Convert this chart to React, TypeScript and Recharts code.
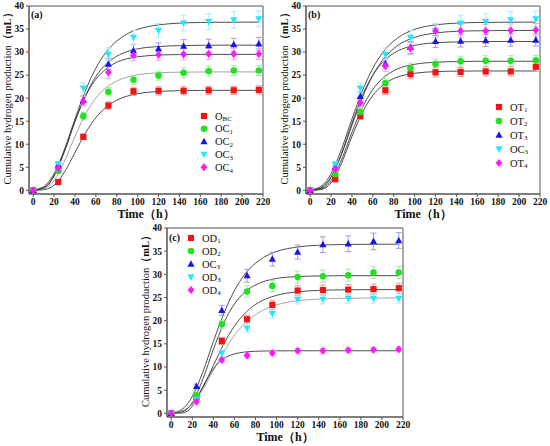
import React from "react";
import {
    ComposedChart,
    Line,
    Scatter,
    XAxis,
    YAxis,
    ErrorBar,
    ReferenceArea,
} from "recharts";

// sampling times of the measured points and of the fitted curves (h)
const sampleTimes = [0, 24, 48, 72, 96, 120, 144, 168, 192, 216];
const fitTimes = [0, 10, 20, 30, 40, 50, 60, 70, 80, 90, 100, 120, 140, 160, 180, 200, 216];

const xTicks = [0, 20, 40, 60, 80, 100, 120, 140, 160, 180, 200, 220];
const yTicks = [0, 5, 10, 15, 20, 25, 30, 35, 40];

// panel (a)
const obcVals = [0, 1.8, 11.6, 18.4, 21.5, 21.6, 21.6, 21.7, 21.7, 21.8];
const obcErr = [0.2, 0.3, 0.6, 0.8, 0.9, 0.9, 0.9, 0.9, 0.9, 0.9];
const obcFit = [0, 0.12, 1.11, 3.96, 8.19, 12.4, 15.76, 18.07, 19.54, 20.44, 20.96, 21.45, 21.62, 21.68, 21.7, 21.7, 21.7];

const oc1Vals = [0, 4.2, 16.1, 21.4, 24.0, 24.9, 25.5, 25.9, 26.0, 26.0];
const oc1Err = [0.2, 0.4, 0.8, 0.9, 1.0, 1.0, 1.1, 1.1, 1.1, 1.1];
const oc1Fit = [0.01, 0.31, 2.13, 6.32, 11.66, 16.5, 20.02, 22.34, 23.72, 24.57, 25.07, 25.5, 25.64, 25.68, 25.7, 25.7, 25.7];

const oc2Vals = [0, 5.5, 19.5, 27.4, 30.3, 30.7, 31.3, 31.4, 31.6, 31.8];
const oc2Err = [0.2, 0.5, 1.0, 1.2, 1.3, 1.3, 1.4, 1.4, 1.4, 1.4];
const oc2Fit = [0.03, 0.57, 3.17, 8.47, 14.9, 20.5, 24.7, 27.4, 29.1, 30.1, 30.7, 31.2, 31.4, 31.47, 31.5, 31.5, 31.5];

const oc3Vals = [0, 5.7, 22.2, 29.5, 33.2, 34.7, 36.3, 36.6, 37.0, 37.2];
const oc3Err = [0.2, 0.5, 1.1, 1.4, 1.5, 1.5, 1.7, 1.7, 1.8, 1.7];
const oc3Fit = [0.07, 0.82, 3.63, 8.93, 15.48, 21.6, 26.5, 30.06, 32.4, 33.95, 34.93, 35.9, 36.28, 36.42, 36.47, 36.49, 36.5];

const oc4Vals = [0, 4.8, 19.3, 25.6, 29.3, 29.4, 29.5, 29.6, 29.6, 29.6];
const oc4Err = [0.2, 0.5, 1.0, 1.3, 1.2, 1.2, 1.2, 1.2, 1.2, 1.2];
const oc4Fit = [0.01, 0.46, 3.06, 8.58, 15.05, 20.4, 24.1, 26.4, 27.8, 28.56, 28.98, 29.35, 29.46, 29.5, 29.5, 29.5, 29.5];

// panel (b)
const ot1Vals = [0, 2.4, 16.1, 21.7, 25.2, 25.6, 25.7, 25.8, 25.8, 26.8];
const ot1Err = [0.2, 0.3, 0.7, 0.9, 1.0, 1.0, 1.0, 1.0, 1.0, 1.0];
const ot1Fit = [0, 0.15, 1.62, 5.87, 11.7, 16.9, 20.6, 22.9, 24.26, 25.0, 25.4, 25.76, 25.86, 25.9, 25.9, 25.9, 25.9];

const ot2Vals = [0, 3.5, 17.0, 23.3, 26.5, 27.4, 28.0, 28.1, 28.1, 28.2];
const ot2Err = [0.2, 0.4, 0.8, 1.0, 1.1, 1.1, 1.1, 1.1, 1.1, 1.1];
const ot2Fit = [0.01, 0.26, 2.09, 6.64, 12.6, 17.98, 21.9, 24.4, 25.96, 26.85, 27.35, 27.8, 27.94, 28.0, 28.0, 28.0, 28.0];

const ot3Vals = [0, 5.0, 20.4, 27.5, 31.0, 32.3, 32.4, 32.5, 32.6, 32.6];
const ot3Err = [0.2, 0.5, 1.0, 1.2, 1.3, 1.3, 1.3, 1.3, 1.3, 1.3];
const ot3Fit = [0.01, 0.41, 2.72, 7.95, 14.6, 20.6, 25.0, 27.95, 29.76, 30.84, 31.46, 32.03, 32.2, 32.27, 32.3, 32.3, 32.3];

const ot4Vals = [0, 4.6, 19.0, 27.0, 30.8, 34.6, 34.6, 34.6, 34.7, 34.8];
const ot4Err = [0.2, 0.5, 1.0, 1.2, 1.3, 1.4, 1.4, 1.4, 1.4, 1.4];
const ot4Fit = [0.04, 0.58, 2.94, 7.8, 14.1, 20.1, 24.97, 28.45, 30.8, 32.27, 33.2, 34.15, 34.5, 34.62, 34.67, 34.69, 34.7];

// panel (c)
const od1Vals = [0, 3.5, 15.6, 20.3, 23.4, 26.5, 26.6, 26.7, 26.8, 27.0];
const od1Err = [0.2, 0.4, 0.8, 0.9, 1.0, 1.1, 1.1, 1.1, 1.1, 1.1];
const od1Fit = [0.02, 0.38, 2.01, 5.56, 10.3, 15.0, 18.8, 21.6, 23.5, 24.7, 25.46, 26.24, 26.53, 26.64, 26.68, 26.7, 26.7];

const od2Vals = [0, 3.9, 19.2, 26.3, 27.5, 29.4, 29.6, 29.8, 30.4, 30.4];
const od2Err = [0.2, 0.4, 0.9, 1.2, 1.2, 1.3, 1.3, 1.3, 1.3, 1.3];
const od2Fit = [0.01, 0.28, 2.32, 7.35, 13.8, 19.5, 23.6, 26.2, 27.7, 28.6, 29.1, 29.52, 29.65, 29.7, 29.7, 29.7, 29.7];

const oc3cVals = [0, 5.8, 22.2, 29.7, 33.3, 34.8, 36.4, 36.6, 37.1, 37.3];

const od3Vals = [0, 3.0, 13.0, 18.4, 21.5, 24.6, 24.6, 24.8, 24.8, 24.8];
const od3Err = [0.2, 0.3, 0.7, 0.9, 1.0, 1.0, 1.0, 1.0, 1.0, 1.0];
const od3Fit = [0.05, 0.49, 2.09, 5.2, 9.27, 13.3, 16.8, 19.4, 21.3, 22.55, 23.4, 24.29, 24.65, 24.8, 24.86, 24.88, 24.9];

const od4Vals = [0, 2.5, 11.5, 12.5, 13.0, 13.5, 13.5, 13.6, 13.7, 13.8];
const od4Err = [0.2, 0.3, 0.5, 0.5, 0.5, 0.5, 0.5, 0.5, 0.5, 0.5];
const od4Fit = [0, 0.05, 1.52, 5.72, 9.63, 11.82, 12.81, 13.23, 13.39, 13.46, 13.48, 13.5, 13.5, 13.5, 13.5, 13.5, 13.5];

type ShapeKind = "square" | "circle" | "triangle" | "down" | "diamond";

type Series = {
    main: string;
    sub: string;
    kind: ShapeKind;
    color: string;
    bar: string;
    curve: string;
    vals: number[];
    errs: number[];
    fit: number[];
};

const RED = { color: "#f01414", bar: "#f29a9a" };
const GREEN = { color: "#22e022", bar: "#9eee9e" };
const BLUE = { color: "#1616e8", bar: "#9c9cf2" };
const CYAN = { color: "#22e8ff", bar: "#a0eeff" };
const MAGENTA = { color: "#ff18ff", bar: "#f4a4f4" };

const DARK = "#3a3a3a";
const LIGHT = "#9a9a9a";

const seriesA: Series[] = [
    { main: "O", sub: "BC", kind: "square", ...RED, curve: DARK, vals: obcVals, errs: obcErr, fit: obcFit },
    { main: "OC", sub: "1", kind: "circle", ...GREEN, curve: LIGHT, vals: oc1Vals, errs: oc1Err, fit: oc1Fit },
    { main: "OC", sub: "2", kind: "triangle", ...BLUE, curve: DARK, vals: oc2Vals, errs: oc2Err, fit: oc2Fit },
    { main: "OC", sub: "3", kind: "down", ...CYAN, curve: DARK, vals: oc3Vals, errs: oc3Err, fit: oc3Fit },
    { main: "OC", sub: "4", kind: "diamond", ...MAGENTA, curve: DARK, vals: oc4Vals, errs: oc4Err, fit: oc4Fit },
];

const seriesB: Series[] = [
    { main: "OT", sub: "1", kind: "square", ...RED, curve: DARK, vals: ot1Vals, errs: ot1Err, fit: ot1Fit },
    { main: "OT", sub: "2", kind: "circle", ...GREEN, curve: DARK, vals: ot2Vals, errs: ot2Err, fit: ot2Fit },
    { main: "OT", sub: "3", kind: "triangle", ...BLUE, curve: DARK, vals: ot3Vals, errs: ot3Err, fit: ot3Fit },
    { main: "OC", sub: "3", kind: "down", ...CYAN, curve: DARK, vals: oc3Vals, errs: oc3Err, fit: oc3Fit },
    { main: "OT", sub: "4", kind: "diamond", ...MAGENTA, curve: DARK, vals: ot4Vals, errs: ot4Err, fit: ot4Fit },
];

const seriesC: Series[] = [
    { main: "OD", sub: "1", kind: "square", ...RED, curve: DARK, vals: od1Vals, errs: od1Err, fit: od1Fit },
    { main: "OD", sub: "2", kind: "circle", ...GREEN, curve: DARK, vals: od2Vals, errs: od2Err, fit: od2Fit },
    { main: "OC", sub: "3", kind: "triangle", ...BLUE, curve: DARK, vals: oc3cVals, errs: oc3Err, fit: oc3Fit },
    { main: "OD", sub: "3", kind: "down", ...CYAN, curve: LIGHT, vals: od3Vals, errs: od3Err, fit: od3Fit },
    { main: "OD", sub: "4", kind: "diamond", ...MAGENTA, curve: DARK, vals: od4Vals, errs: od4Err, fit: od4Fit },
];

const SERIF = "'Liberation Serif', 'Times New Roman', serif";
const FRAME = "#555";

const Marker = ({ kind, cx, cy, fill }: { kind: ShapeKind; cx: number; cy: number; fill: string }) => {
    const r = 3.1;
    switch (kind) {
        case "square":
            return <rect x={cx - r} y={cy - r} width={2 * r} height={2 * r} fill={fill} />;
        case "circle":
            return <circle cx={cx} cy={cy} r={r + 0.2} fill={fill} />;
        case "triangle":
            return (
                <polygon
                    points={`${cx},${cy - r * 1.25} ${cx + r * 1.15},${cy + r * 0.85} ${cx - r * 1.15},${cy + r * 0.85}`}
                    fill={fill}
                />
            );
        case "down":
            return (
                <polygon
                    points={`${cx},${cy + r * 1.25} ${cx + r * 1.15},${cy - r * 0.85} ${cx - r * 1.15},${cy - r * 0.85}`}
                    fill={fill}
                />
            );
        default:
            return (
                <polygon
                    points={`${cx},${cy - r * 1.3} ${cx + r * 1.1},${cy} ${cx},${cy + r * 1.3} ${cx - r * 1.1},${cy}`}
                    fill={fill}
                />
            );
    }
};

const toPoints = (vals: number[], errs: number[]) =>
    sampleTimes.map((t, i) => ({ t, y: vals[i], e: errs[i] }));

const toCurve = (fit: number[]) => fitTimes.map((t, i) => ({ t, y: fit[i] }));

const tickStyle = { fill: "#111", fontSize: 9.5, fontWeight: 700, fontFamily: SERIF };

interface PanelProps {
    tag: string;
    series: Series[];
    left: number;
    top: number;
    width: number;
    rightMargin: number;
    topMargin: number;
    legendX: number;
    legendY: number;
    legendGap: number;
}

const Panel: React.FC<PanelProps> = ({
    tag,
    series,
    left,
    top,
    width,
    rightMargin,
    topMargin,
    legendX,
    legendY,
    legendGap,
}) => {
    const height = 224;
    return (
        <div style={{ position: "absolute", left, top, width, height }}>
            <ComposedChart
                width={width}
                height={height}
                margin={{ top: topMargin, right: rightMargin, bottom: 0, left: 0 }}
            >
                <XAxis
                    type="number"
                    dataKey="t"
                    domain={[-4, 220]}
                    allowDataOverflow
                    ticks={xTicks}
                    interval={0}
                    height={30}
                    tickSize={3}
                    tickMargin={1}
                    tick={tickStyle}
                    axisLine={{ stroke: FRAME }}
                    tickLine={{ stroke: FRAME }}
                    label={{
                        content: (p: any) => {
                            const vb = p.viewBox || {};
                            return (
                                <text
                                    x={vb.x + vb.width / 2}
                                    y={vb.y + 20}
                                    textAnchor="middle"
                                    dominantBaseline="central"
                                    fontFamily={SERIF}
                                    fontWeight={700}
                                    fontSize={12}
                                    fill="#111"
                                >
                                    Time（h）
                                </text>
                            );
                        },
                    }}
                />
                <YAxis
                    type="number"
                    dataKey="y"
                    domain={[-0.8, 40]}
                    allowDataOverflow
                    ticks={yTicks}
                    interval={0}
                    width={29}
                    tickSize={3}
                    tickMargin={2}
                    tick={tickStyle}
                    axisLine={{ stroke: FRAME }}
                    tickLine={{ stroke: FRAME }}
                    label={{
                        content: (p: any) => {
                            const vb = p.viewBox || {};
                            const cx = 7;
                            const cy = vb.y + vb.height / 2 - 4;
                            return (
                                <text
                                    x={cx}
                                    y={cy}
                                    transform={`rotate(-90 ${cx} ${cy})`}
                                    textAnchor="middle"
                                    dominantBaseline="central"
                                    fontFamily={SERIF}
                                    fontSize={10.5}
                                    fill="#111"
                                >
                                    Cumulative hydrogen production
                                    <tspan fontWeight={700}>（mL）</tspan>
                                </text>
                            );
                        },
                    }}
                />
                <ReferenceArea
                    x1={-4}
                    x2={220}
                    y1={-0.8}
                    y2={40}
                    fill="none"
                    stroke={FRAME}
                    strokeWidth={1}
                />
                {series.map((s) => (
                    <Line
                        key={`fit-${s.main}${s.sub}`}
                        data={toCurve(s.fit)}
                        dataKey="y"
                        type="monotone"
                        stroke={s.curve}
                        strokeWidth={0.9}
                        dot={false}
                        isAnimationActive={false}
                    />
                ))}
                {series.map((s) => (
                    <Scatter
                        key={`pts-${s.main}${s.sub}`}
                        data={toPoints(s.vals, s.errs)}
                        dataKey="y"
                        fill={s.color}
                        isAnimationActive={false}
                        shape={(p: any) => <Marker kind={s.kind} cx={p.cx} cy={p.cy} fill={s.color} />}
                    >
                        <ErrorBar
                            dataKey="e"
                            direction="y"
                            width={3}
                            stroke={s.bar}
                            strokeWidth={1}
                            isAnimationActive={false}
                        />
                    </Scatter>
                ))}
            </ComposedChart>
            <svg
                width={width}
                height={height}
                style={{ position: "absolute", left: 0, top: 0, pointerEvents: "none" }}
            >
                <text x={31} y={18} fontFamily={SERIF} fontWeight={700} fontSize={10} fill="#111">
                    {tag}
                </text>
                {series.map((s, i) => (
                    <g key={`leg-${s.main}${s.sub}`}>
                        <Marker kind={s.kind} cx={legendX} cy={legendY + i * legendGap} fill={s.color} />
                        <text
                            x={legendX + 11}
                            y={legendY + i * legendGap + 3.5}
                            fontFamily={SERIF}
                            fontSize={10.5}
                            fill="#111"
                        >
                            {s.main}
                            <tspan fontSize={7} dy={1.8}>
                                {s.sub}
                            </tspan>
                        </text>
                    </g>
                ))}
            </svg>
        </div>
    );
};

export default function App() {
    return (
        <div style={{ position: "absolute", left: 0, top: 0, width: 550, height: 446, background: "#fff" }}>
            <Panel
                tag="(a)"
                series={seriesA}
                left={0}
                top={0}
                width={275}
                rightMargin={12}
                topMargin={6}
                legendX={204}
                legendY={116}
                legendGap={12.8}
            />
            <Panel
                tag="(b)"
                series={seriesB}
                left={277}
                top={0}
                width={273}
                rightMargin={10}
                topMargin={6}
                legendX={222}
                legendY={107}
                legendGap={14}
            />
            <Panel
                tag="(c)"
                series={seriesC}
                left={138}
                top={223}
                width={275}
                rightMargin={10}
                topMargin={5}
                legendX={53}
                legendY={15}
                legendGap={13}
            />
        </div>
    );
}
